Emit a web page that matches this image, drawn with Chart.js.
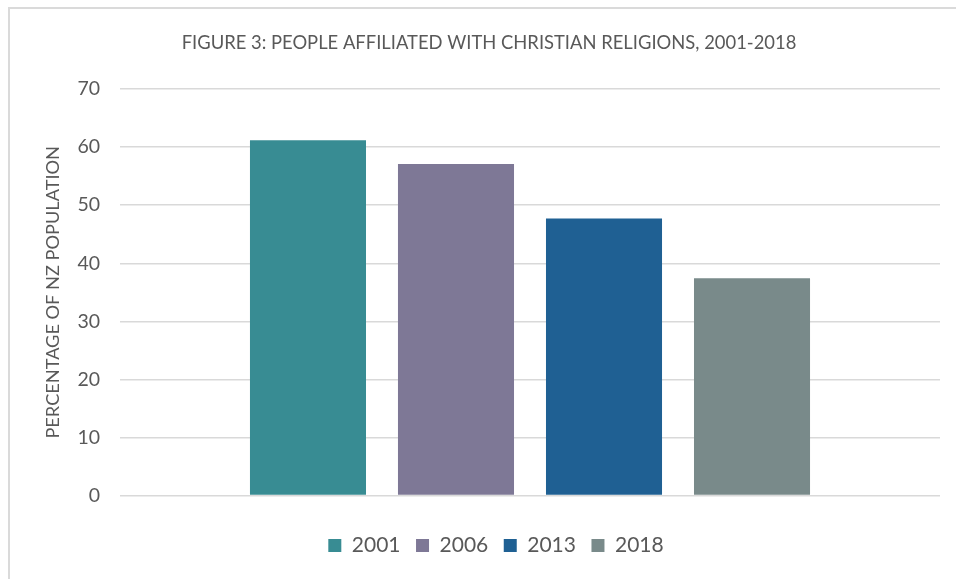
<!DOCTYPE html>
<html>
<head>
<meta charset="utf-8">
<script src="https://cdn.jsdelivr.net/npm/chart.js@4"></script>
<style>
  html, body { margin: 0; padding: 0; background: #fff; }
  #wrap { position: relative; width: 956px; height: 579px; overflow: hidden; }
  #frame { position: absolute; left: 8px; top: 7px; width: 1000px; height: 700px; border: 2px solid #dadada; box-sizing: border-box; }
  canvas { position: absolute; left: 0; top: 0; }
</style>
</head>
<body>
<div id="wrap">
  <div id="frame"></div>
  <canvas id="chart" width="956" height="579"></canvas>
</div>
<script>
const TITLE = "FIGURE 3: PEOPLE AFFILIATED WITH CHRISTIAN RELIGIONS, 2001-2018";
const Y_TITLE = "PERCENTAGE OF NZ POPULATION";
const categories = [""];
const years = ["2001", "2006", "2013", "2018"];
const shares = [61.2, 57.1, 47.7, 37.4];
const yTicks = [0, 10, 20, 30, 40, 50, 60, 70];
const colors = ["#388c93", "#7e7896", "#1f6093", "#798a8a"];

const TEXT = "#595959";
const FONT = "Lato";

// nudge the legend a few px right so it sits under the bars like the original
const legendShift = {
  id: "legendShift",
  afterLayout(chart) {
    chart.legend.left += 7;
    chart.legend.right += 7;
  },
};

const chart = new Chart(document.getElementById("chart").getContext("2d"), {
  type: "bar",
  data: {
    labels: categories,
    datasets: years.map((year, i) => ({
      label: year,
      data: [shares[i]],
      backgroundColor: colors[i],
      borderWidth: 0,
      categoryPercentage: 0.722,
      barPercentage: 0.784,
    })),
  },
  plugins: [legendShift],
  options: {
    responsive: false,
    animation: false,
    layout: {
      padding: { left: 38, right: 16, top: 0, bottom: 13 },
    },
    plugins: {
      title: {
        display: true,
        text: TITLE,
        color: TEXT,
        font: { family: FONT, size: 18.4, weight: "normal" },
        padding: { top: 32, bottom: 35 },
      },
      legend: {
        position: "bottom",
        labels: {
          color: TEXT,
          font: { family: FONT, size: 21 },
          boxWidth: 13,
          boxHeight: 13,
          padding: 15.5,
        },
      },
      tooltip: { enabled: false },
    },
    scales: {
      x: {
        grid: { display: false },
        border: { display: false },
        ticks: { display: false },
        afterFit: (scale) => { scale.height = 24; },
      },
      y: {
        min: yTicks[0],
        max: yTicks[yTicks.length - 1],
        afterBuildTicks: (scale) => { scale.ticks = yTicks.map((v) => ({ value: v })); },
        afterFit: (scale) => { scale.width = 82; },
        grid: { color: "#d9d9d9", lineWidth: 1.5, drawTicks: false },
        border: { display: false },
        ticks: {
          color: TEXT,
          font: { family: FONT, size: 19.5 },
          padding: 20,
        },
        title: {
          display: true,
          text: Y_TITLE,
          color: TEXT,
          font: { family: FONT, size: 18.2 },
        },
      },
    },
  },
});
</script>
</body>
</html>
